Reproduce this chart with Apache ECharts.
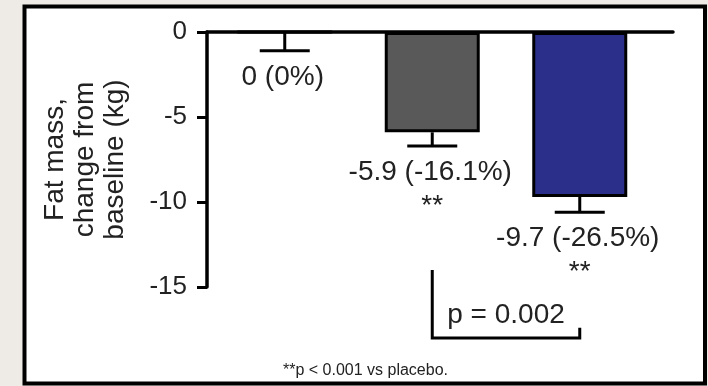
<!DOCTYPE html>
<html>
<head>
<meta charset="utf-8">
<script src="https://cdn.jsdelivr.net/npm/echarts@6/dist/echarts.min.js"></script>
<style>
  html, body { margin: 0; padding: 0; background: #eeebe7; }
  #chart { width: 708px; height: 386px; }
</style>
</head>
<body>
<div id="chart"></div>
<script>
// ---- data ----
const categories = ['Placebo', 'Treatment (low)', 'Treatment (high)'];
const meanChangeKg = [0, -5.9, -9.7];
const errorKg = [1.1, 0.8, 0.9];
const pctChange = [0, -16.1, -26.5];
const sigMarks = ['', '**', '**'];
const barColors = ['#ffffff', '#595959', '#2c2f8a'];
const yMin = -15, yMax = 0, yInterval = 5;
const comparisonPair = [1, 2];
const comparisonLabel = 'p = 0.002';
const footnote = '**p < 0.001 vs placebo.';
const yAxisTitle = 'Fat mass,\nchange from\nbaseline (kg)';

// ---- chart ----
const FONT = '"Liberation Sans", Arial, sans-serif';
const TXT = '#222';
const valueLabels = meanChangeKg.map((v, i) => `${v} (${pctChange[i]}%)`);

const chart = echarts.init(document.getElementById('chart'), null, { renderer: 'canvas' });

const option = {
  backgroundColor: '#eeebe7',
  animation: false,
  graphic: [{
    type: 'rect', z: -10, silent: true,
    shape: { x: 24.5, y: 6.5, width: 680.5, height: 377 },
    style: { fill: '#ffffff', stroke: '#000', lineWidth: 4 }
  }],
  title: {
    text: footnote, left: 278, top: 358,
    textStyle: { fontSize: 16, fontWeight: 'normal', color: TXT, fontFamily: FONT }
  },
  grid: [
    { left: 207, right: 35, top: 32, bottom: 99 },
    { left: 211, width: 442.5, top: 32, bottom: 99 }
  ],
  xAxis: [
    {
      gridIndex: 0, type: 'value', position: 'top', min: 0, max: 1,
      axisLine: { show: true, onZero: false, lineStyle: { color: '#000', width: 3.5 } },
      axisTick: { show: false }, axisLabel: { show: false }, splitLine: { show: false }
    },
    { gridIndex: 1, type: 'category', data: categories, show: false }
  ],
  yAxis: [
    {
      gridIndex: 0, type: 'value', min: yMin, max: yMax, interval: yInterval,
      axisLine: { show: true, onZero: false, lineStyle: { color: '#000', width: 3.5 } },
      axisTick: { show: true, length: 10, lineStyle: { color: '#000', width: 3 } },
      axisLabel: { fontSize: 26, color: TXT, margin: 20, fontFamily: FONT },
      splitLine: { show: false },
      name: yAxisTitle, nameLocation: 'middle', nameGap: 77, nameRotate: 90,
      nameTextStyle: { fontSize: 28, lineHeight: 30, color: TXT, fontFamily: FONT, align: 'center' }
    },
    { gridIndex: 1, type: 'value', min: yMin, max: yMax, show: false }
  ],
  series: [
    {
      type: 'bar', xAxisIndex: 1, yAxisIndex: 1, barWidth: 95, z: 2,
      data: meanChangeKg.map((v, i) => ({ value: v, itemStyle: { color: barColors[i] } })),
      itemStyle: { borderColor: '#000', borderWidth: 3 }
    },
    {
      type: 'custom', xAxisIndex: 1, yAxisIndex: 1, clip: false, z: 3,
      data: categories.map((c, i) => [i, meanChangeKg[i], errorKg[i]]),
      renderItem: function (params, api) {
        const i = api.value(0), v = api.value(1), e = api.value(2);
        const top = api.coord([i, v]);
        const bot = api.coord([i, v - e]);
        const x = top[0];
        const ly = bot[1] + 26.5;
        const children = [
          { type: 'line', shape: { x1: x, y1: top[1], x2: x, y2: bot[1] }, style: { stroke: '#000', lineWidth: 3 } },
          { type: 'line', shape: { x1: x - 25, y1: bot[1], x2: x + 25, y2: bot[1] }, style: { stroke: '#000', lineWidth: 3 } },
          { type: 'text', style: { text: valueLabels[params.dataIndex], x: x - 2, y: ly, align: 'center', verticalAlign: 'middle', fontSize: 28, fontFamily: FONT, fill: TXT } }
        ];
        if (sigMarks[params.dataIndex]) {
          children.push({ type: 'text', style: { text: sigMarks[params.dataIndex], x: x, y: ly + 34, align: 'center', verticalAlign: 'middle', fontSize: 28, fontFamily: FONT, fill: TXT } });
        }
        return { type: 'group', children: children };
      }
    },
    {
      type: 'custom', xAxisIndex: 1, yAxisIndex: 1, clip: false, z: 3,
      data: [comparisonPair],
      renderItem: function (params, api) {
        const a = api.value(0), b = api.value(1);
        const pTop = api.coord([a, -14]);
        const pBot = api.coord([a, -18]);
        const pR = api.coord([b, -18]);
        const pRT = api.coord([b, -17.4]);
        return {
          type: 'group', children: [
            { type: 'polyline', shape: { points: [pTop, pBot, pR, pRT] }, style: { stroke: '#000', lineWidth: 3, fill: null } },
            { type: 'text', style: { text: comparisonLabel, x: (pBot[0] + pR[0]) / 2, y: pBot[1] - 23, align: 'center', verticalAlign: 'middle', fontSize: 28, fontFamily: FONT, fill: TXT } }
          ]
        };
      }
    }
  ]
};
chart.setOption(option);
</script>
</body>
</html>
